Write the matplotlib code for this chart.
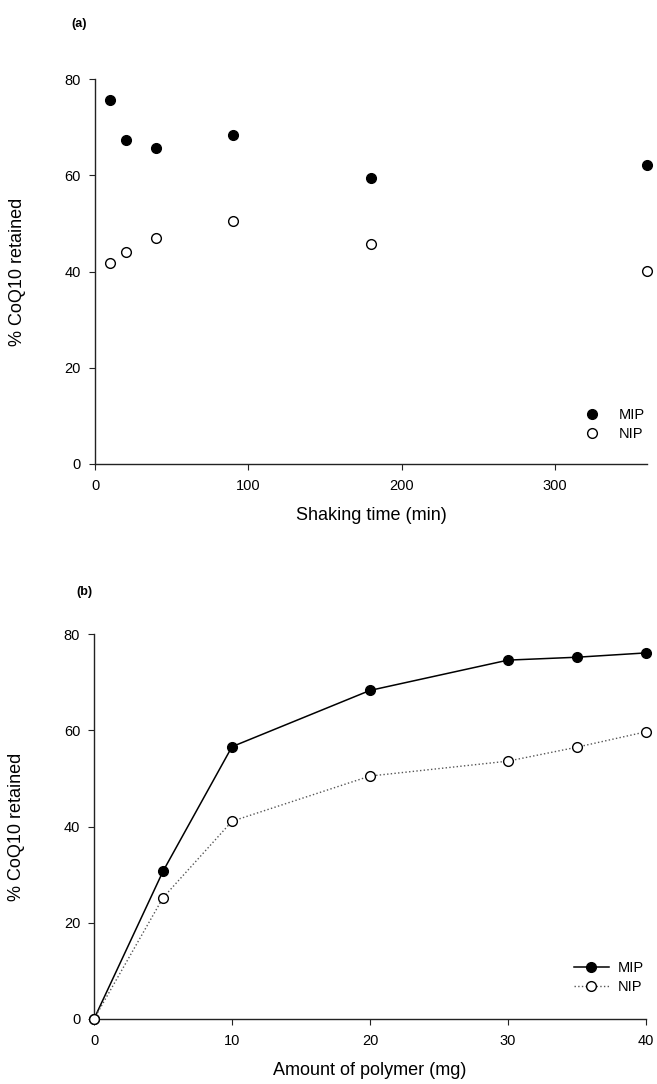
import matplotlib.pyplot as plt

plt.rcParams['font.family'] = ['Liberation Sans', 'DejaVu Sans']

# Shaking time experiment
time_min = [10, 20, 40, 90, 180, 360]
mip_time = [75.6, 67.3, 65.6, 68.4, 59.5, 62.2]
nip_time = [41.8, 44.0, 46.9, 50.6, 45.7, 40.1]

# Polymer amount experiment
polymer_mg = [0, 5, 10, 20, 30, 35, 40]
mip_amount = [0, 30.7, 56.6, 68.3, 74.6, 75.2, 76.1]
nip_amount = [0, 25.2, 41.1, 50.5, 53.6, 56.5, 59.7]

fig = plt.figure(figsize=(6.57, 10.84), dpi=100)
ax1 = fig.add_axes([0.1446, 0.572, 0.8404, 0.355])
ax2 = fig.add_axes([0.1431, 0.060, 0.8401, 0.355])

for ax in (ax1, ax2):
    for s in ('top', 'right'):
        ax.spines[s].set_visible(False)
    for s in ('left', 'bottom'):
        ax.spines[s].set_color('#222222')
        ax.spines[s].set_linewidth(1.0)
    ax.tick_params(direction='out', length=4, width=0.8, colors='#222222',
                   labelsize=10.5, labelcolor='black')
    ax.tick_params(axis='x', pad=7)
    ax.tick_params(axis='y', pad=6)
    ax.set_yticks([0, 20, 40, 60, 80])
    ax.set_ylim(0, 80)
    ax.yaxis.set_label_coords(-0.125, 0.5)

# (a)
ax1.plot(time_min, mip_time, 'o', color='black', markersize=7, clip_on=False, label='MIP')
ax1.plot(time_min, nip_time, 'o', markerfacecolor='white', markeredgecolor='black',
         markeredgewidth=1.0, markersize=7, clip_on=False, label='NIP')
ax1.set_xlim(0, 360)
ax1.set_xticks([0, 100, 200, 300])
ax1.set_xlabel('Shaking time (min)', fontsize=13, labelpad=10)
ax1.set_ylabel('% CoQ10 retained', fontsize=13)
ax1.legend(loc='lower right', frameon=False, fontsize=10.5, handletextpad=0.8,
           labelspacing=0.35, borderaxespad=0, bbox_to_anchor=(1.006, 0.045))
fig.text(0.12, 0.978, '(a)', fontsize=9, fontweight='bold', ha='center', va='center')

# (b)
ax2.plot(polymer_mg, mip_amount, '-o', color='black', linewidth=1.1, markersize=7,
         clip_on=False, label='MIP', zorder=3)
ax2.plot(polymer_mg, nip_amount, ':o', color='#555555', linewidth=1.0,
         markerfacecolor='white', markeredgecolor='black', markeredgewidth=1.0,
         markersize=7, clip_on=False, label='NIP', zorder=4)
ax2.set_xlim(0, 40)
ax2.set_xticks([0, 10, 20, 30, 40])
ax2.set_xlabel('Amount of polymer (mg)', fontsize=13, labelpad=10)
ax2.set_ylabel('% CoQ10 retained', fontsize=13)
ax2.legend(loc='lower right', frameon=False, fontsize=10.5, handlelength=2.4,
           handletextpad=0.6, labelspacing=0.35, borderaxespad=0,
           bbox_to_anchor=(1.006, 0.05))
fig.text(0.129, 0.454, '(b)', fontsize=9, fontweight='bold', ha='center', va='center')

fig.savefig('out.png', dpi=100)
